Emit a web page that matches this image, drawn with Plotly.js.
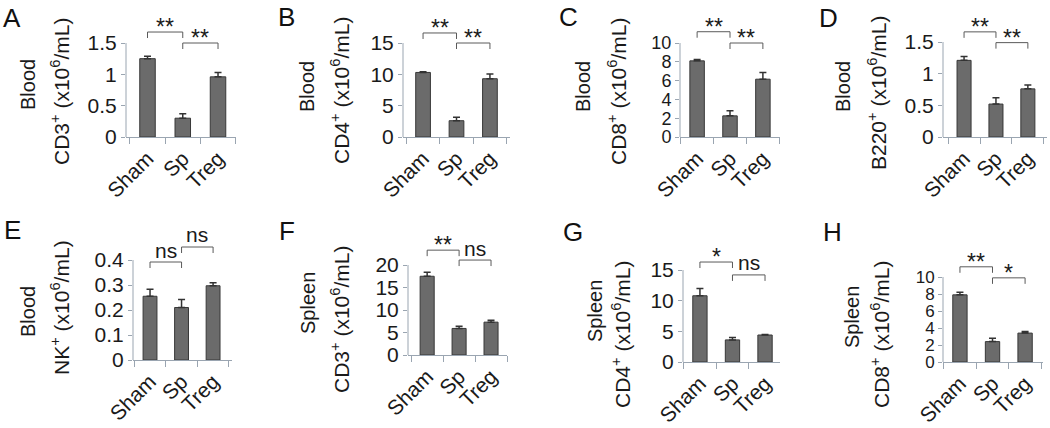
<!DOCTYPE html>
<html><head><meta charset="utf-8">
<script src="https://cdn.plot.ly/plotly-3.0.1.min.js"></script>
<style>html,body{margin:0;padding:0;background:#fff}#chart{width:1050px;height:428px}</style>
</head><body><div id="chart"></div>
<script>
// ---------------- DATA ----------------
const groups = ['Sham', 'Sp', 'Treg'];

const organs = ['Blood', 'Blood', 'Blood', 'Blood', 'Blood', 'Spleen', 'Spleen', 'Spleen'];
const markers = ['CD3<sup>+</sup>', 'CD4<sup>+</sup>', 'CD8<sup>+</sup>', 'B220<sup>+</sup>',
                 'NK<sup>+</sup>', 'CD3<sup>+</sup>', 'CD4<sup>+</sup>', 'CD8<sup>+</sup>'];
const unitText = ' (x10<sup>6</sup>/mL)';
const panelLetters = ['A', 'B', 'C', 'D', 'E', 'F', 'G', 'H'];

const meanA = [1.25, 0.30, 0.96];   const errA = [0.04, 0.07, 0.07];
const meanB = [10.3, 2.6, 9.3];     const errB = [0.1, 0.55, 0.75];
const meanC = [8.1, 2.25, 6.15];    const errC = [0.15, 0.55, 0.7];
const meanD = [1.21, 0.52, 0.76];   const errD = [0.06, 0.10, 0.06];
const meanE = [0.255, 0.21, 0.297]; const errE = [0.028, 0.032, 0.012];
const meanF = [17.5, 5.9, 7.3];     const errF = [0.9, 0.5, 0.45];
const meanG = [10.8, 3.6, 4.4];     const errG = [1.2, 0.4, 0.1];
const meanH = [7.9, 2.4, 3.4];      const errH = [0.3, 0.4, 0.2];

const ticksA = [0, 0.5, 1, 1.5];       const tickTextA = ['0', '0.5', '1', '1.5'];
const ticksB = [0, 5, 10, 15];         const tickTextB = ['0', '5', '10', '15'];
const ticksC = [0, 2, 4, 6, 8, 10];    const tickTextC = ['0', '2', '4', '6', '8', '10'];
const ticksD = [0, 0.5, 1, 1.5];       const tickTextD = ['0', '0.5', '1', '1.5'];
const ticksE = [0, 0.1, 0.2, 0.3, 0.4]; const tickTextE = ['0', '0.1', '0.2', '0.3', '0.4'];
const ticksF = [0, 5, 10, 15, 20];     const tickTextF = ['0', '5', '10', '15', '20'];
const ticksG = [0, 5, 10, 15];         const tickTextG = ['0', '5', '10', '15'];
const ticksH = [0, 2, 4, 6, 8, 10];    const tickTextH = ['0', '2', '4', '6', '8', '10'];

// significance brackets: [from group, to group], height (data units), label
const bracketPairs = [['Sham', 'Sp'], ['Sp', 'Treg']];
const bracketHeightA = [1.675, 1.5];  const bracketLabelA = ['**', '**'];
const bracketHeightB = [16.6, 15.0];  const bracketLabelB = ['**', '**'];
const bracketHeightC = [11.2, 10.0];  const bracketLabelC = ['**', '**'];
const bracketHeightD = [1.66, 1.49];  const bracketLabelD = ['**', '**'];
const bracketHeightE = [0.392, 0.452]; const bracketLabelE = ['ns', 'ns'];
const bracketHeightF = [23.3, 21.1];  const bracketLabelF = ['**', 'ns'];
const bracketHeightG = [16.3, 14.2];  const bracketLabelG = ['*', 'ns'];
const bracketHeightH = [11.2, 9.9];   const bracketLabelH = ['**', '*'];

const means = [meanA, meanB, meanC, meanD, meanE, meanF, meanG, meanH];
const errs = [errA, errB, errC, errD, errE, errF, errG, errH];
const ticks = [ticksA, ticksB, ticksC, ticksD, ticksE, ticksF, ticksG, ticksH];
const tickTexts = [tickTextA, tickTextB, tickTextC, tickTextD, tickTextE, tickTextF, tickTextG, tickTextH];
const bracketHeights = [bracketHeightA, bracketHeightB, bracketHeightC, bracketHeightD,
                        bracketHeightE, bracketHeightF, bracketHeightG, bracketHeightH];
const bracketLabels = [bracketLabelA, bracketLabelB, bracketLabelC, bracketLabelD,
                       bracketLabelE, bracketLabelF, bracketLabelG, bracketLabelH];

// ---------------- LAYOUT GEOMETRY (pixels) ----------------
const W = 1050, H = 428;
const boxes = [
  {x0:126, x1:236, xr:[-0.61, 2.51], zero:137, top:43,  domTop:8,   yfs:21, letter:[12,18],  organ:[28,85],   title:[60,92]},
  {x0:403, x1:510, xr:[-0.60, 2.60], zero:137, top:43,  domTop:8,   yfs:21, letter:[286,17], organ:[307,87],  title:[340,91]},
  {x0:680, x1:780, xr:[-0.52, 2.52], zero:137, top:43,  domTop:8,   yfs:18, letter:[568,17], organ:[583,87],  title:[617,92]},
  {x0:943, x1:1047,xr:[-0.66, 2.60], zero:137, top:42,  domTop:8,   yfs:21, letter:[828,18], organ:[843,87],  title:[877,93]},
  {x0:133, x1:232, xr:[-0.54, 2.60], zero:360, top:260, domTop:228, yfs:21, letter:[12,230], organ:[28,312],  title:[60,308]},
  {x0:408, x1:507, xr:[-0.60, 2.50], zero:355, top:265, domTop:232, yfs:21, letter:[287,231],organ:[308,303], title:[340,320]},
  {x0:683, x1:780, xr:[-0.52, 2.46], zero:362, top:270, domTop:240, yfs:21, letter:[573,232],organ:[595,311], title:[621,335]},
  {x0:943, x1:1043,xr:[-0.52, 2.55], zero:362, top:277, domTop:248, yfs:17, letter:[832,232],organ:[852,317], title:[880,335]}
];

const FONT = 'Liberation Sans, Arial, sans-serif';
const TEXT = '#1a1a1a';
const AXIS = '#9aa5b1';
const BAR = '#6b6b6b';
const BAR_EDGE = '#383838';
const BRACKET = '#5a5a5a';
const labelShift = {'**': 5, '*': 5, 'ns': 12};

const traces = [];
const layout = {
  width: W, height: H,
  margin: {l: 0, r: 0, t: 0, b: 0},
  paper_bgcolor: '#fff', plot_bgcolor: 'rgba(0,0,0,0)',
  showlegend: false,
  font: {family: FONT, color: TEXT, size: 20},
  annotations: [], shapes: []
};

boxes.forEach((b, i) => {
  const n = i + 1;
  const xa = n === 1 ? 'x' : 'x' + n;
  const ya = n === 1 ? 'y' : 'y' + n;
  const tickVals = ticks[i];
  const tickMax = tickVals[tickVals.length - 1];
  const pxPerUnit = (b.zero - b.top) / tickMax;
  const rMax = (b.zero - b.domTop) / pxPerUnit;

  layout['xaxis' + (n === 1 ? '' : n)] = {
    domain: [b.x0 / W, b.x1 / W], anchor: ya, type: 'category',
    categoryarray: groups, range: b.xr,
    showline: true, linecolor: AXIS, linewidth: 1,
    ticks: 'outside', tickson: 'boundaries', ticklen: 6, tickcolor: AXIS,
    tickangle: -45, tickfont: {size: 21, family: FONT, color: TEXT},
    showgrid: false, zeroline: false, fixedrange: true, automargin: false
  };
  layout['yaxis' + (n === 1 ? '' : n)] = {
    domain: [1 - b.zero / H, 1 - b.domTop / H], anchor: xa,
    range: [0, rMax], tickvals: tickVals, ticktext: tickTexts[i],
    showline: false, ticks: 'outside', ticklen: 4, tickcolor: AXIS,
    tickfont: {size: b.yfs, family: FONT, color: TEXT},
    showgrid: false, zeroline: false, fixedrange: true, automargin: false
  };

  // visible y axis line from 0 to the top tick
  layout.shapes.push({type: 'line', xref: xa + ' domain', x0: 0, x1: 0, yref: ya,
    y0: 0, y1: tickMax, line: {color: AXIS, width: 1}});

  traces.push({
    type: 'bar', x: groups, y: means[i], xaxis: xa, yaxis: ya, width: 0.44,
    marker: {color: BAR, line: {color: BAR_EDGE, width: 1}},
    error_y: {type: 'data', symmetric: false, array: errs[i], arrayminus: errs[i].map(() => 0),
              color: '#333', thickness: 1.5, width: 3.5},
    hoverinfo: 'skip'
  });

  const arm = 6 / pxPerUnit;
  bracketPairs.forEach((pair, k) => {
    const h = bracketHeights[i][k];
    traces.push({
      type: 'scatter', mode: 'lines', xaxis: xa, yaxis: ya,
      x: [pair[0], pair[0], pair[1], pair[1]],
      y: [h - arm, h, h, h - arm],
      line: {color: BRACKET, width: 1}, hoverinfo: 'skip', cliponaxis: false
    });
    const lab = bracketLabels[i][k];
    layout.annotations.push({
      xref: xa, yref: ya,
      x: (groups.indexOf(pair[0]) + groups.indexOf(pair[1])) / 2, y: h,
      text: lab, showarrow: false, xanchor: 'center', yanchor: 'middle',
      yshift: labelShift[lab], font: {size: lab === 'ns' ? 21 : 23, family: FONT, color: TEXT}
    });
  });

  // panel letter
  layout.annotations.push({xref: 'paper', yref: 'paper', x: b.letter[0] / W, y: 1 - b.letter[1] / H,
    text: panelLetters[i], showarrow: false, xanchor: 'center', yanchor: 'middle',
    font: {size: 26, family: FONT, color: '#111'}});
  // organ line
  layout.annotations.push({xref: 'paper', yref: 'paper', x: b.organ[0] / W, y: 1 - b.organ[1] / H,
    text: organs[i], textangle: -90, showarrow: false, xanchor: 'center', yanchor: 'middle',
    font: {size: 20, family: FONT, color: TEXT}});
  // axis title line
  layout.annotations.push({xref: 'paper', yref: 'paper', x: b.title[0] / W, y: 1 - b.title[1] / H,
    text: markers[i] + unitText, textangle: -90, showarrow: false, xanchor: 'center', yanchor: 'middle',
    font: {size: 21, family: FONT, color: TEXT}});
});

Plotly.newPlot('chart', traces, layout, {staticPlot: true, displayModeBar: false});
</script>
</body></html>
